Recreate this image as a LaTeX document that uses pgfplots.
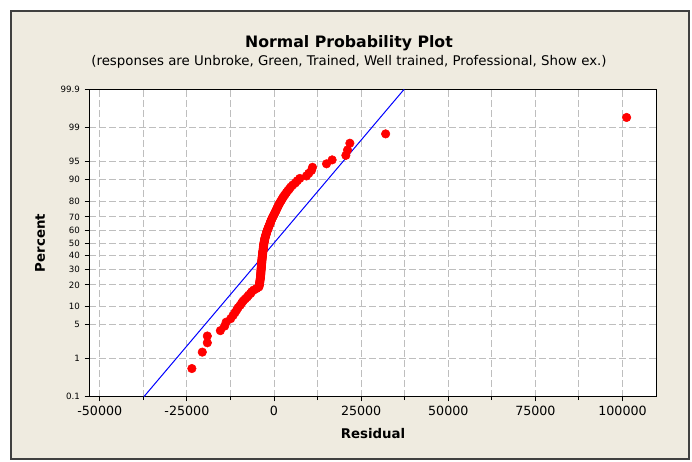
\documentclass[border=0pt]{standalone}
\usepackage{fontspec}
\setmainfont{DejaVu Sans}
\usepackage{pgfplots}
\pgfplotsset{compat=1.18}
\definecolor{minibg}{RGB}{239,235,224}
\definecolor{gridgray}{RGB}{190,190,190}

\begin{document}
\begin{tikzpicture}
% page drawn in pixel units of the reference (origin top left)
\begin{scope}[shift={(-66.975pt,297.525pt)},x=0.75pt,y=-0.75pt]
  \useasboundingbox (0,0) rectangle (692,461);
  \fill[white] (0,0) rectangle (692,461);
  \filldraw[fill=minibg,draw=black!75,line width=1.1pt] (11,11) rectangle (689,459);
  \node[font=\fontsize{11.8}{14}\selectfont\bfseries,anchor=base] at (349,48) {Normal Probability Plot};
  \node[font=\fontsize{10}{12}\selectfont,anchor=base] at (349,66) {(responses are Unbroke, Green, Trained, Well trained, Professional, Show ex.)};
  \node[font=\fontsize{10}{12}\selectfont\bfseries,rotate=90] at (40,243) {Percent};
  \node[font=\fontsize{10}{12}\selectfont\bfseries,anchor=base] at (373,438) {Residual};
\end{scope}

\begin{axis}[
  at={(0,0)}, anchor=south west,
  scale only axis,
  width=425.55pt, height=230.55pt,
  xmin=-53000, xmax=109800,
  ymin=-3.0902, ymax=3.0902,
  scaled x ticks=false,
  axis background/.style={fill=white},
  axis line style={black,line width=0.75pt},
  tick align=outside, tick pos=left,
  tick style={black,line width=0.75pt},
  major tick length=3.5pt, minor tick length=2.5pt,
  xtick={-50000,-25000,0,25000,50000,75000,100000},
  xticklabels={-50000,-25000,0,25000,50000,75000,100000},
  minor xtick={-37500,-12500,12500,37500,62500,87500},
  ytick={-3.0902,-2.3263,-1.6449,-1.2816,-0.8416,-0.5244,-0.2533,0,0.2533,0.5244,0.8416,1.2816,1.6449,2.3263,3.0902},
  yticklabels={0.1,1,5,10,20,30,40,50,60,70,80,90,95,99,99.9},
  xmajorgrids, xminorgrids, ymajorgrids,
  major grid style={gridgray,dash pattern=on 5pt off 2.5pt,line width=0.75pt},
  minor grid style={gridgray,dash pattern=on 5pt off 2.5pt,line width=0.75pt},
  x tick label style={font=\fontsize{9.5}{11}\selectfont},
  y tick label style={font=\fontsize{6.5}{8}\selectfont},
]
\addplot[only marks, mark=*, mark size=3.2pt, color=red, mark options={draw=red,fill=red}] coordinates {
(-23570,-2.524) (-20580,-2.194) (-19140,-2.006) (-19140,-1.870) (-15400,-1.762)
(-14170,-1.671) (-13740,-1.592) (-12440,-1.522) (-11780,-1.459) (-11210,-1.401)
(-10720,-1.348) (-10290,-1.298) (-9710,-1.251) (-9280,-1.207) (-8850,-1.165)
(-8280,-1.125) (-7700,-1.086) (-7270,-1.049) (-6700,-1.014) (-6410,-0.980)
(-5830,-0.946) (-4970,-0.914) (-4340,-0.883) (-4220,-0.853) (-4170,-0.823)
(-4110,-0.794) (-4050,-0.766) (-3990,-0.739) (-3940,-0.712) (-3880,-0.685)
(-3850,-0.659) (-3820,-0.633) (-3790,-0.608) (-3760,-0.583) (-3740,-0.559)
(-3710,-0.535) (-3680,-0.511) (-3650,-0.487) (-3620,-0.464) (-3590,-0.441)
(-3560,-0.418) (-3530,-0.396) (-3510,-0.372) (-3480,-0.350) (-3450,-0.328)
(-3420,-0.306) (-3390,-0.285) (-3360,-0.263) (-3300,-0.241) (-3280,-0.220)
(-3250,-0.199) (-3220,-0.178) (-3160,-0.157) (-3100,-0.136) (-3080,-0.115)
(-3050,-0.094) (-3020,-0.073) (-2990,-0.052) (-2960,-0.031) (-2900,-0.010)
(-2850,0.010) (-2790,0.031) (-2730,0.052) (-2670,0.073) (-2620,0.094)
(-2530,0.115) (-2440,0.136) (-2350,0.157) (-2270,0.178) (-2180,0.199)
(-2100,0.220) (-1980,0.241) (-1870,0.263) (-1750,0.285) (-1640,0.306)
(-1520,0.328) (-1380,0.350) (-1240,0.372) (-1120,0.396) (-1010,0.418)
(-890,0.441) (-750,0.464) (-600,0.487) (-430,0.511) (-260,0.535)
(-90,0.559) (90,0.583) (260,0.608) (430,0.633) (630,0.659)
(780,0.685) (950,0.712) (1150,0.739) (1350,0.766) (1550,0.794)
(1780,0.823) (2070,0.853) (2300,0.883) (2560,0.914) (2870,0.946)
(3220,0.980) (3560,1.014) (3940,1.049) (4370,1.086) (4800,1.125)
(5370,1.165) (6090,1.207) (6670,1.251) (7390,1.298) (9310,1.348)
(9970,1.401) (10750,1.459) (11040,1.522) (15060,1.592) (16670,1.671)
(20610,1.762) (21090,1.870) (21760,2.006) (32020,2.194) (101160,2.524)
};
\addplot[blue, line width=0.75pt] coordinates {(-37330,-3.0902) (37330,3.0902)};
\end{axis}
\end{tikzpicture}
\end{document}
